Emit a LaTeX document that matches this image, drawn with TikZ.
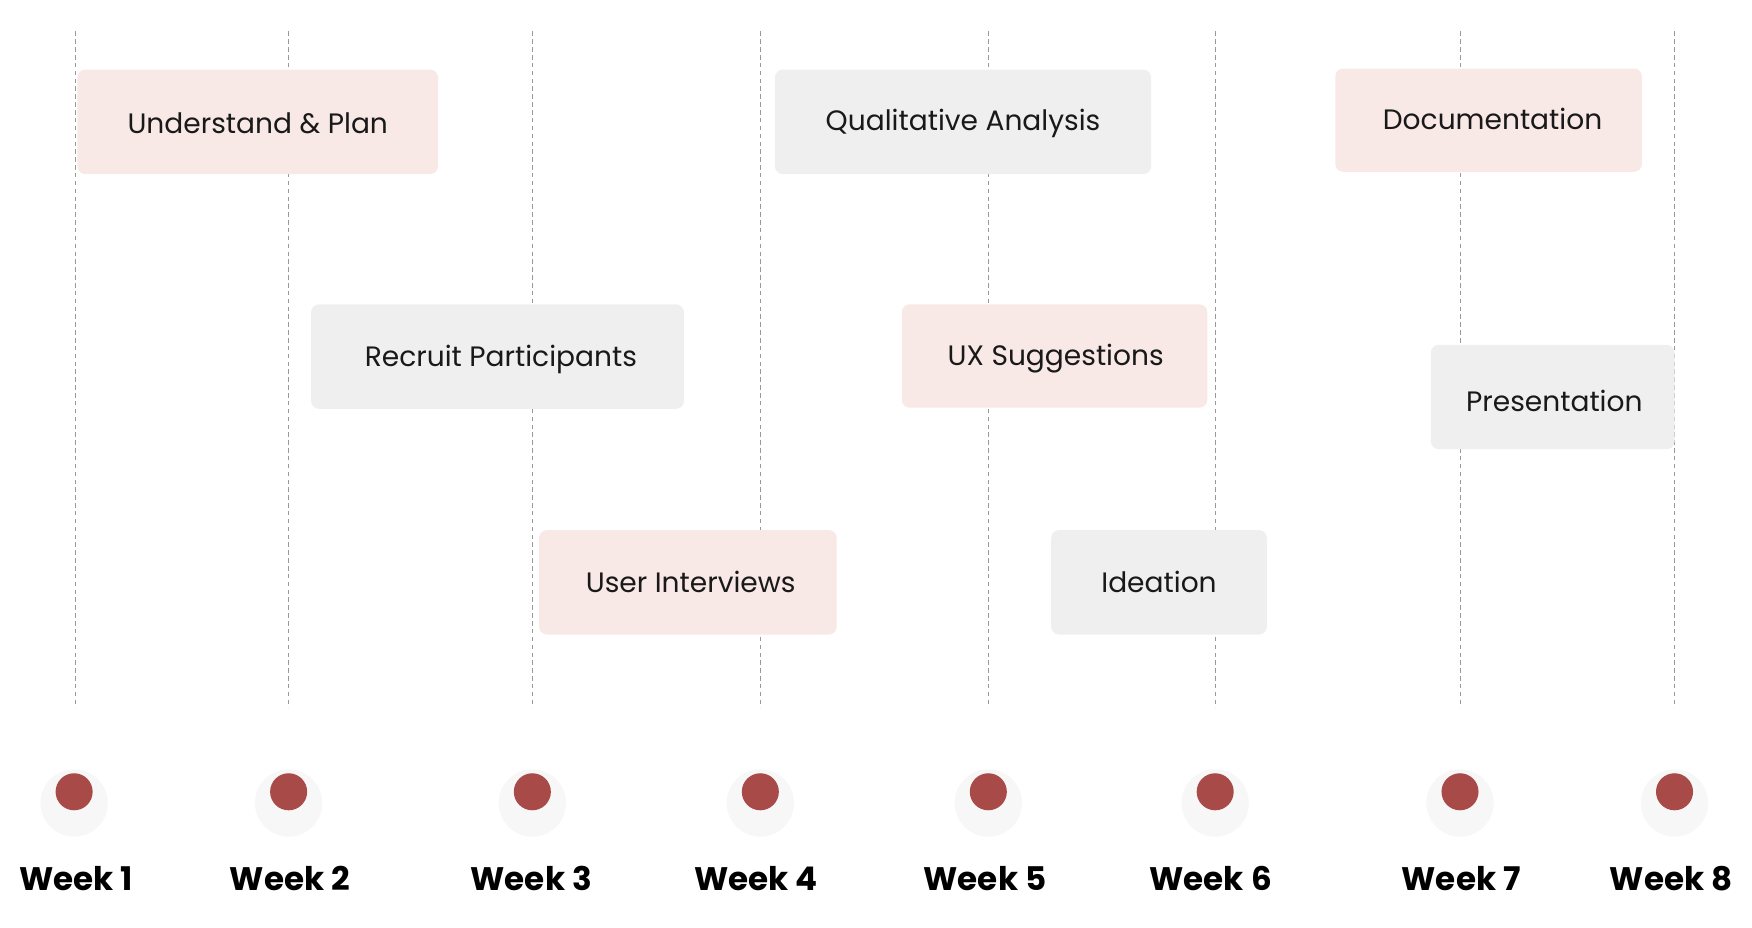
\documentclass[tikz,border=0pt]{standalone}
\usepackage{fontspec}
\setmainfont{Poppins}
\definecolor{pinkbox}{HTML}{F8E8E6}
\definecolor{graybox}{HTML}{EFEFEF}
\definecolor{dotc}{HTML}{A84B48}
\begin{document}
\begin{tikzpicture}[x=1pt,y=-1pt,
  grid/.style={draw=gray!80,dashed,dash pattern=on 4pt off 3pt,line width=0.8pt},
  task/.style={rounded corners=7pt,inner sep=0pt,font=\fontsize{25}{30}\selectfont,text=black!90},
  pk/.style={task,fill=pinkbox},
  gy/.style={task,fill=graybox},
  dot/.style={circle,fill=dotc,minimum size=33pt,inner sep=0pt},
  wk/.style={font=\fontsize{29}{34}\selectfont\bfseries,text=black}]
\useasboundingbox (0,0) rectangle (1560,826);
\foreach \i/\x in {1/67,2/257,3/474,4/677,5/880,6/1082,7/1300,8/1491}{
  \coordinate (t\i) at (\x,28);
  \coordinate (b\i) at (\x,630);
  \draw[grid] (t\i) -- (b\i);
}
\path[pk] (69,62) rectangle (390,155);
\node[task] (n1) at (229.5,110) {Understand \& Plan};
\path[gy] (690,62) rectangle (1025,155);
\node[task] (n2) at (857.5,110) {Qualitative Analysis};
\path[pk] (1189,61) rectangle (1462,153);
\node[task] (n3) at (1329,106) {Documentation};
\path[gy] (277,271) rectangle (609,364);
\node[task] (n4) at (446,320) {Recruit Participants};
\path[pk] (803,271) rectangle (1075,363);
\node[task] (n5) at (940,319) {UX Suggestions};
\path[gy] (1274,307) rectangle (1491,400);
\node[task] (n6) at (1384,357) {Presentation};
\path[pk] (480,472) rectangle (745,565);
\node[task] (n7) at (615,518) {User Interviews};
\path[gy] (936,472) rectangle (1128,565);
\node[task] (n8) at (1032,518) {Ideation};
\foreach \i/\x/\lx in {1/66/68,2/257/258,3/474/473,4/677/673,5/880/877,6/1082/1078,7/1300/1301,8/1491/1488}{
  \fill[black!6] (\x,712) circle (24pt);
  \fill[black!3] (\x,715) circle (30pt);
  \node[dot] (d\i) at (\x,705) {};
  \node[wk] (w\i) at (\lx,782) {Week \i};
}
\end{tikzpicture}
\end{document}
